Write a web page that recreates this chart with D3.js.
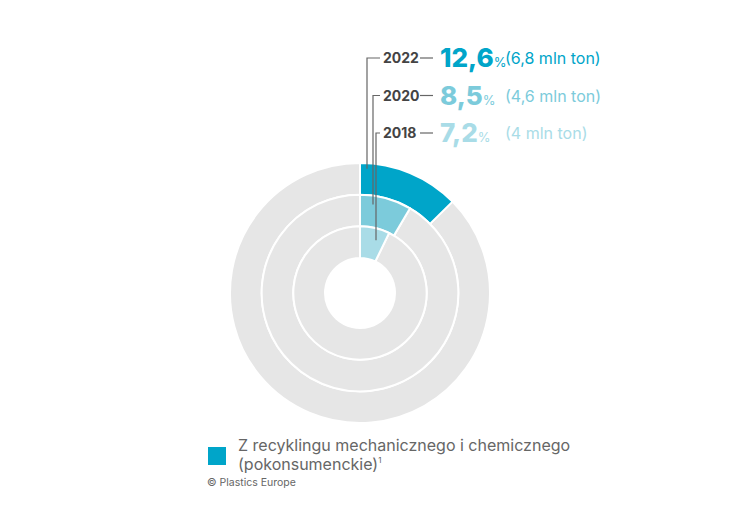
<!DOCTYPE html>
<html><head><meta charset="utf-8">
<script src="https://cdn.jsdelivr.net/npm/d3@7"></script>
<style>body{margin:0;background:#fff}text{font-family:Inter,"Open Sans",sans-serif}</style>
</head><body><svg id="c" width="750" height="529"></svg>
<script>
var years = ["2022", "2020", "2018"];
var shares = [12.6, 8.5, 7.2];
var tonnes = ["(6,8 mln ton)", "(4,6 mln ton)", "(4 mln ton)"];
var colors = ["#00a5c9", "#7ccbdb", "#a9dce7"];
var legendText = ["Z recyklingu mechanicznego i chemicznego", "(pokonsumenckie)"];

var svg = d3.select("#c");
var cx = 360, cy = 293;
var ringR = d3.scaleBand().domain(years.slice().reverse()).range([35, 130]);
var ang = d3.scaleLinear().domain([0, 100]).range([0, 2 * Math.PI]);
var g = svg.append("g").attr("transform", "translate(" + cx + "," + cy + ")");

years.forEach(function (y, i) {
  var r0 = ringR(y), r1 = r0 + ringR.bandwidth();
  var arc = d3.arc().innerRadius(r0).outerRadius(r1);
  g.append("path").attr("d", arc({startAngle: ang(shares[i]), endAngle: 2 * Math.PI}))
    .attr("fill", "#e6e6e6").attr("stroke", "#fff").attr("stroke-width", 2);
  g.append("path").attr("d", arc({startAngle: 0, endAngle: ang(shares[i])}))
    .attr("fill", colors[i]).attr("stroke", "#fff").attr("stroke-width", 2);
});

var labelY = d3.scalePoint().domain(years).range([58, 133]);
var lineX = [367, 373, 376];
years.forEach(function (y, i) {
  var r0 = ringR(y), r1 = r0 + ringR.bandwidth();
  var ly = labelY(y);
  var bottom = cy - (r0 + r1) / 2 - 10 + i * 4;
  svg.append("path").attr("d", "M" + lineX[i] + "," + bottom + "V" + ly + "H" + 380)
    .attr("fill", "none").attr("stroke", "#666").attr("stroke-width", 1.2);
  svg.append("text").attr("x", 383).attr("y", ly + 5).attr("font-size", 14)
    .attr("font-weight", 700).attr("fill", "#444").text(y);
  svg.append("line").attr("x1", 420).attr("x2", 433).attr("y1", ly).attr("y2", ly)
    .attr("stroke", "#666").attr("stroke-width", 1.2);
  var t = svg.append("text").attr("x", 440).attr("y", ly + 9).attr("fill", colors[i]);
  t.append("tspan").attr("font-size", 26).attr("font-weight", 800)
    .text(String(shares[i]).replace(".", ","));
  t.append("tspan").attr("font-size", 13).text("%");
  svg.append("text").attr("x", i === 0 ? 505 : 505).attr("y", ly + 6).attr("font-size", 16)
    .attr("fill", colors[i]).text(tonnes[i]);
});

svg.append("rect").attr("x", 208).attr("y", 447).attr("width", 18).attr("height", 18).attr("fill", colors[0]);
svg.append("text").attr("x", 238).attr("y", 451).attr("font-size", 16).attr("fill", "#666").text(legendText[0]);
var l2 = svg.append("text").attr("x", 238).attr("y", 470).attr("font-size", 16).attr("fill", "#666").text(legendText[1]);
l2.append("tspan").attr("font-size", 8).attr("dy", -7).text("1");
svg.append("text").attr("x", 207).attr("y", 486).attr("font-size", 10.5).attr("fill", "#666").text("© Plastics Europe");
</script></body></html>
